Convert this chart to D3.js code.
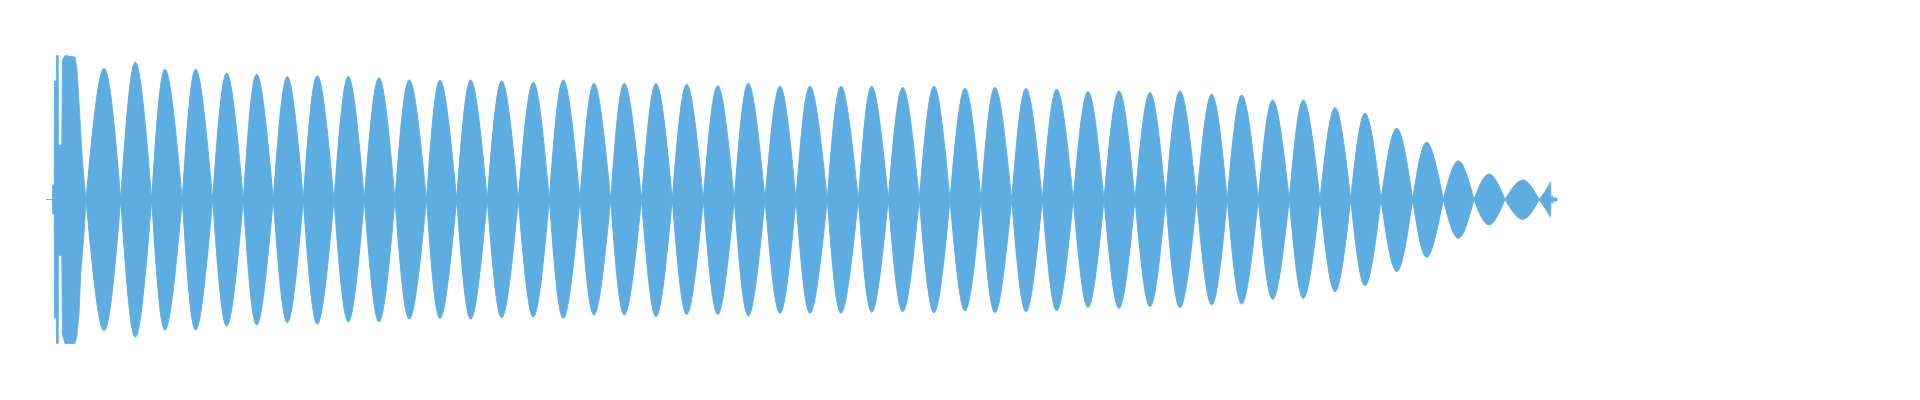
<!DOCTYPE html>
<html>
<head>
<meta charset="utf-8">
<script src="https://cdn.jsdelivr.net/npm/d3@7"></script>
<style>
  html, body { margin: 0; padding: 0; background: #ffffff; }
  svg { display: block; }
</style>
</head>
<body>
<svg id="chart" width="1920" height="400"></svg>
<script>
// ---- data (time in ms, amplitude normalised to [-1, 1]) ----
// zero crossings of the amplitude envelope (lobe boundaries)
const zeroTimes = [40, 74.7, 105.7, 136.3, 166.7, 197.3, 227.3, 257.3, 288, 318.3,
  349, 380.5, 410.7, 441.3, 472.3, 503.3, 534, 564.7, 595.5, 626.3,
  657.3, 688.3, 719, 750, 781.3, 812.3, 842.3, 873.3, 904, 935,
  965.7, 996.3, 1027.3, 1058, 1089, 1119.7, 1150.7, 1181.3, 1212.3, 1243.3,
  1274, 1304.7, 1335, 1366.7, 1397.3, 1428, 1459, 1493];
// time of each lobe's peak
const peakTimes = [58, 89.3, 119, 149.7, 180.7, 210.7, 241.3, 271.3, 302.3, 333,
  363.3, 394, 424.7, 455.7, 487.3, 517.3, 548, 578.3, 610, 640.7,
  671.7, 702.3, 734, 764, 795, 825.7, 856.7, 888, 919, 949,
  980, 1010.7, 1042, 1073, 1104, 1134, 1165.7, 1195.7, 1226.7, 1257.3,
  1289, 1319, 1350.7, 1380.7, 1412.3, 1443, 1476.7];
// positive peak of each lobe
const peakMax = [0.82, 0.858, 0.814, 0.814, 0.789, 0.783, 0.768, 0.774, 0.768, 0.761,
  0.747, 0.747, 0.747, 0.741, 0.733, 0.747, 0.726, 0.726, 0.726, 0.72,
  0.711, 0.726, 0.708, 0.708, 0.708, 0.708, 0.701, 0.708, 0.695, 0.701,
  0.695, 0.689, 0.675, 0.678, 0.668, 0.678, 0.658, 0.653, 0.622, 0.622,
  0.574, 0.539, 0.445, 0.358, 0.241, 0.159, 0.122];
// negative peak of each lobe
const peakMin = [-0.82, -0.861, -0.816, -0.816, -0.791, -0.784, -0.77, -0.778, -0.764, -0.764,
  -0.747, -0.743, -0.747, -0.739, -0.734, -0.743, -0.722, -0.722, -0.733, -0.718,
  -0.718, -0.728, -0.711, -0.711, -0.711, -0.705, -0.701, -0.708, -0.695, -0.708,
  -0.701, -0.695, -0.674, -0.68, -0.67, -0.676, -0.659, -0.653, -0.624, -0.618,
  -0.576, -0.539, -0.451, -0.361, -0.243, -0.159, -0.124];
// attack transient at the start
const onsetTimes = [0, 6.3, 6.7, 8.2, 8.4, 10.3, 10.5, 12.2, 12.4, 15.8,
  16.3, 19, 29, 31, 33, 34.7, 36.3, 38, 40];
const onsetMax = [0, 0, 0.09, 0.09, 0.74, 0.74, 0.9, 0.9, 0.34, 0.34,
  0.87, 0.9, 0.89, 0.81, 0.61, 0.43, 0.26, 0.13, 0];
const onsetMin = [0, 0, -0.09, -0.09, -0.74, -0.74, -0.9, -0.9, -0.35, -0.35,
  -0.84, -0.9, -0.9, -0.85, -0.72, -0.47, -0.35, -0.22, 0];
// cut-off tail at the end
const tailTimes = [1493, 1499, 1504.5, 1505, 1506.5, 1507, 1511];
const tailMax = [0, 0.05, 0.11, 0.01, 0.025, 0.01, 0.01];
const tailMin = [0, -0.055, -0.11, -0.01, -0.025, -0.01, -0.01];
const timeExtent = [0, 1511];

// ---- drawing ----
const color = "#5dade2";
const svg = d3.select("#chart");
const x = d3.scaleLinear().domain([0, 1874]).range([46, 1920]);
const y = d3.scaleLinear().domain([-1, 1]).range([359.5, 39.5]);

const g = svg.append("g");

const linearArea = d3.area()
  .x(d => x(d.t)).y0(d => y(d.lo)).y1(d => y(d.hi))
  .curve(d3.curveLinear);
const lobeArea = d3.area()
  .x(d => x(d.t)).y0(d => y(d.lo)).y1(d => y(d.hi))
  .curve(d3.curveNatural);

// baseline
g.append("line")
  .attr("x1", x(timeExtent[0])).attr("x2", x(timeExtent[1]))
  .attr("y1", y(0)).attr("y2", y(0))
  .attr("stroke", color).attr("stroke-width", 1.2);

// onset
const onset = onsetTimes.map((t, i) => ({ t, hi: onsetMax[i], lo: onsetMin[i] }));
g.append("path").attr("d", linearArea(onset))
  .attr("fill", color).attr("stroke", color).attr("stroke-width", 0.8);

// lobes
const lobes = peakTimes.map((t, i) => [
  { t: zeroTimes[i], hi: 0, lo: 0 },
  { t, hi: peakMax[i], lo: peakMin[i] },
  { t: zeroTimes[i + 1], hi: 0, lo: 0 }
]);
g.selectAll("path.lobe").data(lobes).join("path")
  .attr("class", "lobe")
  .attr("d", lobeArea)
  .attr("fill", color).attr("stroke", color).attr("stroke-width", 1);

// tail
const tail = tailTimes.map((t, i) => ({ t, hi: tailMax[i], lo: tailMin[i] }));
g.append("path").attr("d", linearArea(tail))
  .attr("fill", color).attr("stroke", color).attr("stroke-width", 0.8);
</script>
</body>
</html>
